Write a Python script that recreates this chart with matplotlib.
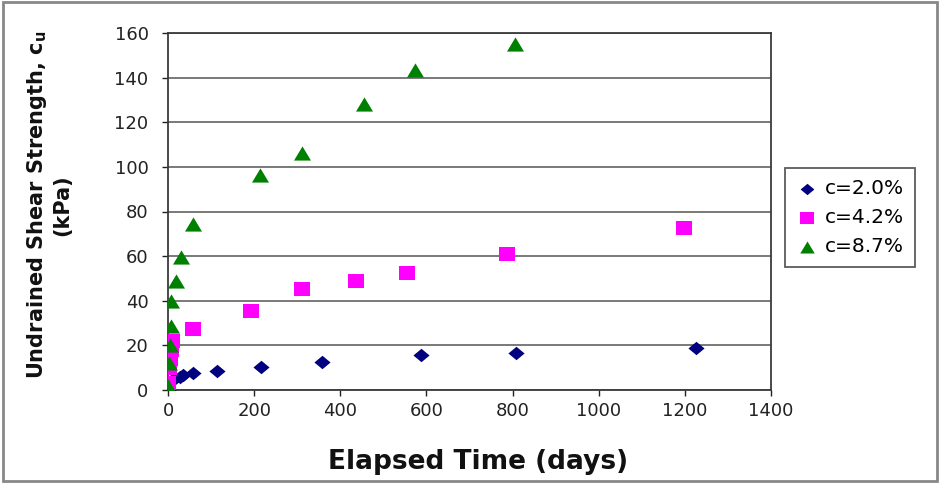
import matplotlib
matplotlib.use("Agg")
import matplotlib.pyplot as plt
from matplotlib.patches import Rectangle

plt.rcParams['font.family'] = ['DejaVu Sans']
plt.rcParams['mathtext.fontset'] = 'dejavusans'

# Data (days, kPa)
t_20 = [1, 7, 14, 28, 35, 58, 113, 217, 358, 587, 809, 1225]
cu_20 = [0, 4, 5, 6, 6.5, 7.5, 8.5, 10.5, 12.5, 15.5, 16.5, 18.7]

t_42 = [1, 2, 4, 7, 9, 58, 192, 310, 437, 555, 786, 1198]
cu_42 = [3, 10, 14, 18, 22, 27.4, 35.4, 45.3, 49, 52.5, 61, 72.6]

t_87 = [1, 3, 4, 7, 7, 19, 30, 58, 213, 310, 455, 573, 805]
cu_87 = [2, 12, 20, 28.5, 40, 49, 59.5, 74.5, 96.4, 106, 128, 143.5, 155]

labels = ['c=2.0%', 'c=4.2%', 'c=8.7%']
x_ticks = [0, 200, 400, 600, 800, 1000, 1200, 1400]
y_ticks = [0, 20, 40, 60, 80, 100, 120, 140, 160]

# slightly widened marker shapes
diamond = [(-1.2, 0), (0, 1), (1.2, 0), (0, -1), (-1.2, 0)]
square = [(-1.15, -1), (1.15, -1), (1.15, 1), (-1.15, 1), (-1.15, -1)]
triangle = [(0, 1), (-1.2, -1), (1.2, -1), (0, 1)]

fig = plt.figure(figsize=(9.4, 4.83), dpi=100)
ax = fig.add_axes([168/940, 93/483, (771-168)/940, (390-33)/483])

ax.scatter(t_20, cu_20, marker=diamond, s=135, color='#000080', label=labels[0], zorder=3, linewidths=0)
ax.scatter(t_42, cu_42, marker=square, s=130, color='#FF00FF', label=labels[1], zorder=3, linewidths=0)
ax.scatter(t_87, cu_87, marker=triangle, s=150, color='#008000', label=labels[2], zorder=4, linewidths=0)

ax.set_xlim(0, 1400)
ax.set_ylim(0, 160)
ax.set_xticks(x_ticks)
ax.set_yticks(y_ticks)
ax.tick_params(axis='both', direction='out', length=4, width=1, labelsize=13, colors='#222222')
ax.tick_params(axis='x', pad=5)
ax.tick_params(axis='y', pad=10)
ax.yaxis.grid(True, color='#6e6e6e', linewidth=1.3)
ax.set_axisbelow(True)
for s in ax.spines.values():
    s.set_color('#3a3a3a')
    s.set_linewidth(1.3)

ax.set_xlabel('Elapsed Time (days)', fontsize=19, fontweight='bold', color='#111111')
ax.xaxis.set_label_coords(0.515, -0.165)
ax.set_ylabel('Undrained Shear Strength, c$_\\mathbf{u}$\n(kPa)', fontsize=15,
              fontweight='bold', linespacing=1.25, color='#111111')
ax.yaxis.set_label_coords(-0.158, 0.518)

leg = fig.legend(loc='upper left', bbox_to_anchor=(785/940, 1 - 168/483), fontsize=14.5,
                 frameon=True, fancybox=False, edgecolor='#333333', borderpad=0.55,
                 borderaxespad=0, handletextpad=0.35, handlelength=1.1, labelspacing=0.5,
                 scatterpoints=1, markerscale=0.85)
leg.get_frame().set_linewidth(1.3)

fig.patches.append(Rectangle((0.003, 0.004), 0.994, 0.992, transform=fig.transFigure,
                             fill=False, edgecolor='#888888', linewidth=2))

fig.savefig('out.png', dpi=100)
